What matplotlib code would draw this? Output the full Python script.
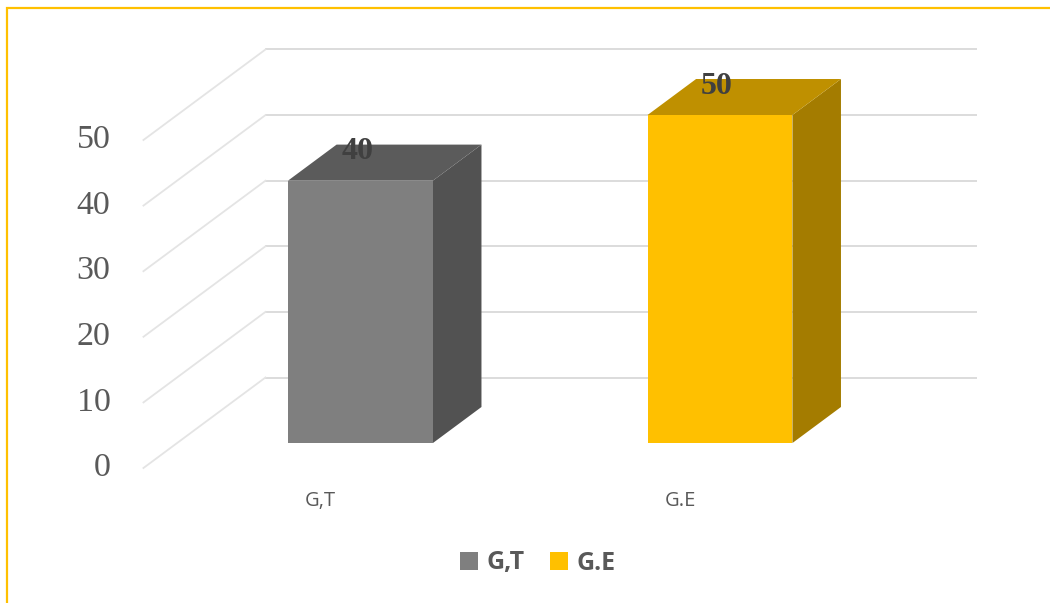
import matplotlib
matplotlib.use("Agg")
import matplotlib.pyplot as plt
from matplotlib.patches import Polygon, Rectangle, Patch

# Chart data
categories = ["G,T", "G.E"]
values = [40, 50]
tick_values = [0, 10, 20, 30, 40, 50]

# Face colours for each series: front, top, right side
front_colors = ["#7F7F7F", "#FFC000"]
top_colors = ["#5B5B5B", "#BF9000"]
side_colors = ["#525252", "#A47C00"]

W, H = 1050, 603
fig = plt.figure(figsize=(W / 100, H / 100), dpi=100)
ax = fig.add_axes([0, 0, 1, 1])

# x in category units, y in value units; oblique projection for depth
X0_PX, CAT_PX = 326.8, 359.5
Y0_PX, VAL_PX = 468.0, 6.56
ax.set_xlim(-X0_PX / CAT_PX, (W - X0_PX) / CAT_PX)
ax.set_ylim(-(H - Y0_PX) / VAL_PX, Y0_PX / VAL_PX)
ax.axis("off")

DX = 122 / CAT_PX     # horizontal shift for full depth (category units)
DY = 90.5 / VAL_PX    # vertical shift for full depth (value units)


def proj(x, v, d):
    """Project (category x, value v, depth d in [0, 1]) to axes data coords."""
    return (x + d * DX, v + d * DY)


PT = 0.72  # points per pixel at 100 dpi

# Walls: gridlines on the back wall and on the left side wall
wall_left, wall_right = -0.51, 1.47
for t in tick_values:
    (x1, y1), (x2, y2) = proj(wall_left, t, 1), proj(wall_right, t, 1)
    ax.plot([x1, x2], [y1, y2], color="#D9D9D9", lw=1.3, zorder=1,
            solid_capstyle="butt")
    (x1, y1), (x2, y2) = proj(wall_left, t, 0), proj(wall_left, t, 1)
    ax.plot([x1, x2], [y1, y2], color="#E4E4E4", lw=1.3, zorder=1)
    ax.annotate(str(t), xy=proj(wall_left, t, 0), xytext=(-33 * PT, 0),
                textcoords="offset points", ha="right", va="center",
                family="Liberation Serif", fontsize=24.5, color="#595959")

# 3D bars
d0, d1 = 0.276, 0.674
bw = 0.403
for i, (cat, v) in enumerate(zip(categories, values)):
    xl, xr = i - bw / 2, i + bw / 2
    ax.add_patch(Polygon([proj(xr, 0, d0), proj(xr, 0, d1),
                          proj(xr, v, d1), proj(xr, v, d0)],
                         closed=True, facecolor=side_colors[i],
                         edgecolor="none", zorder=3))
    ax.add_patch(Polygon([proj(xl, v, d0), proj(xr, v, d0),
                          proj(xr, v, d1), proj(xl, v, d1)],
                         closed=True, facecolor=top_colors[i],
                         edgecolor="none", zorder=3))
    ax.bar(i + d0 * DX, v, width=bw, bottom=d0 * DY,
           color=front_colors[i], zorder=4)
    ax.annotate(str(v), xy=proj(i, v, d0), xytext=(-3 * PT, 29 * PT),
                textcoords="offset points", ha="center", va="center",
                family="Liberation Serif", fontweight="bold", fontsize=23,
                color="#404040", zorder=6)
    ax.annotate(cat, xy=proj(i, 0, 0), xytext=(-6 * PT, -33 * PT),
                textcoords="offset points", ha="center", va="center",
                family="Open Sans", fontsize=14.5, color="#595959")

# Legend
handles = [Patch(facecolor=c, edgecolor="none", label=lab)
           for c, lab in zip(front_colors, categories)]
fig.legend(handles=handles, loc="center",
           bbox_to_anchor=(538 / W, 1 - 563 / H), ncol=2, frameon=False,
           prop={"family": "Open Sans", "weight": "bold", "size": 18},
           labelcolor="#595959", handlelength=0.72, handleheight=0.72,
           handletextpad=0.34, columnspacing=1.0, borderpad=0)

# Chart area border
fig.patches.append(Rectangle((7 / W, -0.1), 1.2, (H - 8) / H + 0.1,
                             transform=fig.transFigure, fill=False,
                             edgecolor="#FFC000", lw=1.6))

fig.savefig("out.png", dpi=100)
